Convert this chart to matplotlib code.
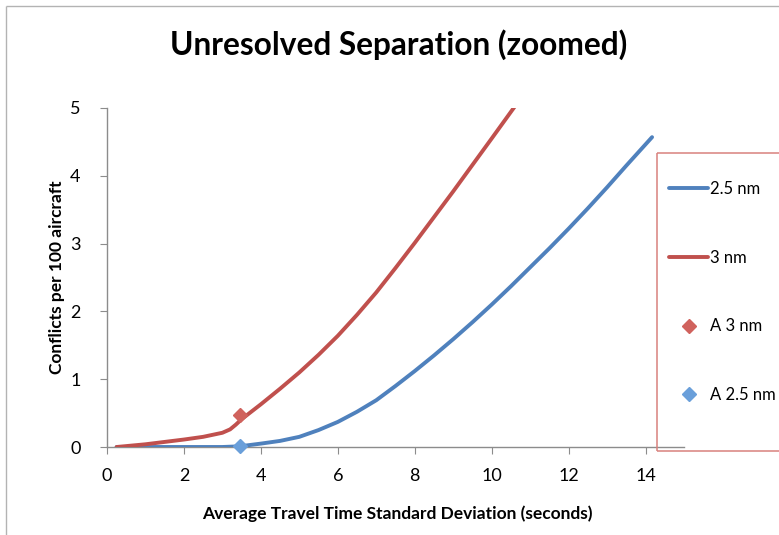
import matplotlib
matplotlib.use("Agg")
import matplotlib.pyplot as plt
from matplotlib.lines import Line2D

plt.rcParams['font.family'] = ['Lato', 'DejaVu Sans']

# Data
x_25 = [0.25, 1, 2, 3, 3.45, 4, 4.5, 5, 5.5, 6, 6.5, 7, 7.5, 8, 8.5, 9, 9.5, 10, 10.5, 11, 11.5, 12,
        12.5, 13, 13.5, 14.17]
y_25 = [0, 0, 0, 0, 0.01, 0.05, 0.09, 0.15, 0.25, 0.37, 0.52, 0.69, 0.90, 1.12, 1.35, 1.59, 1.84, 2.10,
        2.37, 2.65, 2.93, 3.22, 3.52, 3.83, 4.15, 4.57]
x_3 = [0.25, 1, 2, 2.5, 3, 3.2, 3.35, 3.5, 4, 4.5, 5, 5.5, 6, 6.5, 7, 7.5, 8, 8.5, 9, 9.5, 10, 10.7]
y_3 = [0, 0.04, 0.11, 0.15, 0.21, 0.26, 0.33, 0.41, 0.63, 0.86, 1.10, 1.36, 1.64, 1.95, 2.28, 2.64,
       3.01, 3.39, 3.77, 4.16, 4.55, 5.10]
a3_x, a3_y = [3.45], [0.47]
a25_x, a25_y = [3.45], [0.02]
x_ticks = [0, 2, 4, 6, 8, 10, 12, 14]
y_ticks = [0, 1, 2, 3, 4, 5]

title = "Unresolved Separation (zoomed)"
xlabel = "Average Travel Time Standard Deviation (seconds)"
ylabel = "Conflicts per 100 aircraft"

W, H = 779, 535
fig = plt.figure(figsize=(W / 100, H / 100), dpi=100)
ax = fig.add_axes([107 / W, 1 - 447 / H, (684 - 107) / W, (447 - 108) / H])

blue = '#4F81BD'
red = '#C0504D'
l1, = ax.plot(x_25, y_25, color=blue, lw=2.8, solid_capstyle='round', solid_joinstyle='round',
              label='2.5 nm', zorder=3)
l2, = ax.plot(x_3, y_3, color=red, lw=2.8, solid_capstyle='round', solid_joinstyle='round',
              label='3 nm', zorder=3)
m1, = ax.plot(a3_x, a3_y, ls='none', marker='D', ms=7, color='#D0625D', label='A 3 nm', zorder=4)
m2, = ax.plot(a25_x, a25_y, ls='none', marker='D', ms=7, color='#6A9FDA', label='A 2.5 nm', zorder=4,
              clip_on=False)

ax.set_xlim(0, 15)
ax.set_ylim(0, 5)
ax.set_xticks(x_ticks)
ax.set_yticks(y_ticks)
for s in ['top', 'right']:
    ax.spines[s].set_visible(False)
for s in ['left', 'bottom']:
    ax.spines[s].set_color('#8C8C8C')
    ax.spines[s].set_linewidth(1.0)
ax.tick_params(axis='both', direction='out', length=5, color='#8C8C8C', labelsize=13, pad=10)
ax.tick_params(axis='y', pad=14)

fig.text(399 / W, 1 - 45 / H, title, ha='center', va='center', fontsize=22.8, fontweight='bold')
fig.text(397 / W, 1 - 514 / H, xlabel, ha='center', va='center', fontsize=12.5, fontweight='bold')
fig.text(57 / W, 1 - 277 / H, ylabel, ha='center', va='center', fontsize=12.5, fontweight='bold',
         rotation=90)

# legend frame (left, top, bottom visible; right side runs off the figure)
fc = '#D9817D'
x0, y0, y1 = 657 / W, 1 - 451 / H, 1 - 153 / H
xe = 1.0
fig.add_artist(Line2D([x0, xe], [y1, y1], transform=fig.transFigure, color=fc, lw=1.1,
                      solid_capstyle='butt'))
fig.add_artist(Line2D([x0, xe], [y0, y0], transform=fig.transFigure, color=fc, lw=1.1,
                      solid_capstyle='butt'))
fig.add_artist(Line2D([x0, x0], [y0, y1], transform=fig.transFigure, color=fc, lw=1.1,
                      solid_capstyle='butt'))
leg = fig.legend(handles=[l1, l2, m1, m2], loc='upper left', bbox_to_anchor=(669 / W, 1 - 181 / H),
                 frameon=False, fontsize=12, handlelength=2.34, handletextpad=0.12, labelspacing=3.16,
                 borderaxespad=0, borderpad=0)

# figure border (top and left visible)
fig.add_artist(Line2D([6 / W, 6 / W], [0, 1 - 6 / H], transform=fig.transFigure, color='#B3B3B3', lw=1,
                      solid_capstyle='butt'))
fig.add_artist(Line2D([6 / W, 1], [1 - 6 / H, 1 - 6 / H], transform=fig.transFigure, color='#B3B3B3',
                      lw=1, solid_capstyle='butt'))

fig.savefig('out.png', dpi=100)
